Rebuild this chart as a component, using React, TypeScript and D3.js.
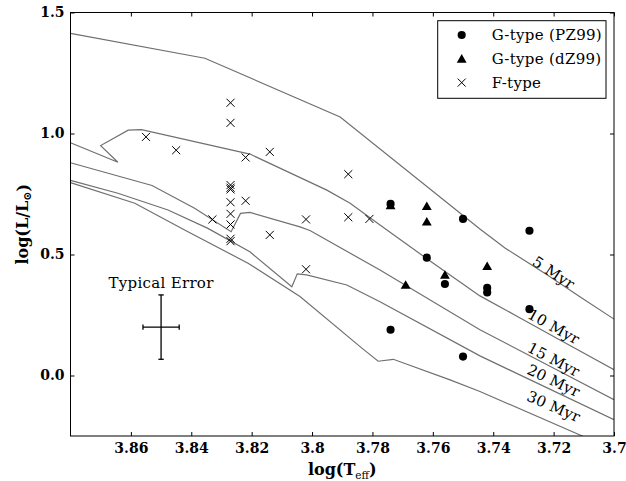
import { useEffect, useMemo, useRef } from "react";
import * as d3 from "d3";

const WIDTH = 626;
const HEIGHT = 481;
const MARGIN = { top: 12.5, right: 12, bottom: 45, left: 70.5 };
const FONT = "DejaVu Serif";
const FONT_SIZE = 15;
const SPACING = 0.3;
const CURVE_COLOR = "#707070";

// axis ranges and ticks
const xDomain = [3.88, 3.7];
const yDomain = [-0.25, 1.5];
const xTicks = [3.86, 3.84, 3.82, 3.8, 3.78, 3.76, 3.74, 3.72, 3.7];
const xTickLabels = ["3.86", "3.84", "3.82", "3.8", "3.78", "3.76", "3.74", "3.72", "3.7"];
const yTicks = [0, 0.5, 1.0, 1.5];
const yTickLabels = ["0.0", "0.5", "1.0", "1.5"];

// G-type stars (PZ99)
const pz99Teff = [3.774, 3.762, 3.756, 3.75, 3.742, 3.742, 3.728, 3.728, 3.774, 3.75];
const pz99L = [0.709, 0.487, 0.378, 0.647, 0.362, 0.343, 0.598, 0.274, 0.189, 0.078];

// G-type stars (dZ99)
const dz99Teff = [3.774, 3.762, 3.762, 3.756, 3.742, 3.769];
const dz99L = [0.703, 0.7, 0.636, 0.416, 0.452, 0.374];

// F-type stars
const fTeff = [3.855, 3.845, 3.833, 3.827, 3.827, 3.827, 3.827, 3.827, 3.827, 3.827, 3.827, 3.827, 3.827,
  3.822, 3.822, 3.814, 3.814, 3.802, 3.802, 3.788, 3.788, 3.781];
const fL = [0.986, 0.931, 0.645, 1.127, 1.044, 0.787, 0.776, 0.769, 0.716, 0.668, 0.624, 0.565, 0.555,
  0.901, 0.722, 0.924, 0.581, 0.645, 0.439, 0.832, 0.654, 0.647];

// isochrones
const iso5Teff = [3.88, 3.8355, 3.7907, 3.7444, 3.7361, 3.7222, 3.7113, 3.7];
const iso5L = [1.414, 1.311, 1.068, 0.605, 0.527, 0.416, 0.325, 0.233];
const iso10Teff = [3.88, 3.8643, 3.87, 3.8609, 3.8565, 3.8206, 3.7951, 3.7874, 3.7775, 3.7609, 3.7444, 3.7311, 3.7179, 3.7];
const iso10L = [0.962, 0.881, 0.95, 1.014, 1.016, 0.915, 0.766, 0.712, 0.622, 0.473, 0.329, 0.238, 0.147, 0.024];
const iso15Teff = [3.88, 3.853, 3.8389, 3.8268, 3.8237, 3.8206, 3.804, 3.8007, 3.7775, 3.7444, 3.7];
const iso15L = [0.879, 0.785, 0.691, 0.594, 0.67, 0.674, 0.614, 0.599, 0.436, 0.189, -0.1];
const iso20Teff = [3.88, 3.8643, 3.8477, 3.8345, 3.8206, 3.8067, 3.8049, 3.8018, 3.7885, 3.7775, 3.7444, 3.7];
const iso20L = [0.806, 0.753, 0.684, 0.608, 0.511, 0.367, 0.42, 0.416, 0.374, 0.305, 0.081, -0.183];
const iso30Teff = [3.88, 3.8587, 3.8422, 3.8212, 3.804, 3.7836, 3.7781, 3.7731, 3.7543, 3.7444, 3.7103, 3.7];
const iso30L = [0.797, 0.712, 0.601, 0.464, 0.326, 0.114, 0.059, 0.067, -0.018, -0.066, -0.251, -0.3];

const isoLabels = ["5 Myr", "10 Myr", "15 Myr", "20 Myr", "30 Myr"];
const isoLabelTeff = [3.72, 3.72, 3.72, 3.72, 3.72];
const isoLabelL = [0.424, 0.201, 0.065, -0.022, -0.129];

// typical error bar
const errTeff = 3.85;
const errL = 0.2;
const errTeffSize = 0.006;
const errLSize = 0.133;

const legendLabels = ["G-type (PZ99)", "G-type (dZ99)", "F-type"];

export default function App() {
  const axesRef = useRef<SVGGElement>(null);
  const boundsWidth = WIDTH - MARGIN.left - MARGIN.right;
  const boundsHeight = HEIGHT - MARGIN.top - MARGIN.bottom;

  const xScale = useMemo(() => d3.scaleLinear().domain(xDomain).range([0, boundsWidth]), [boundsWidth]);
  const yScale = useMemo(() => d3.scaleLinear().domain(yDomain).range([boundsHeight, 0]), [boundsHeight]);

  const isochrones = [
    [iso5Teff, iso5L],
    [iso10Teff, iso10L],
    [iso15Teff, iso15L],
    [iso20Teff, iso20L],
    [iso30Teff, iso30L],
  ];

  const lineGen = d3
    .line<[number, number]>()
    .x((d) => xScale(d[0]))
    .y((d) => yScale(d[1]));

  // rotate each label along the local slope of its curve
  const labelAngle = (teff: number[], lum: number[], at: number) => {
    const px = teff.map((t) => xScale(t));
    const py = lum.map((l) => yScale(l));
    const cx = xScale(at);
    const f = (x: number) => {
      for (let i = px.length - 1; i > 0; i--) {
        if (x >= px[i - 1] && x <= px[i]) return py[i - 1] + ((x - px[i - 1]) / (px[i] - px[i - 1])) * (py[i] - py[i - 1]);
      }
      return py[py.length - 1];
    };
    const x0 = cx - 25;
    const x1 = Math.min(cx + 25, boundsWidth);
    return (Math.atan2(f(x1) - f(x0), x1 - x0) * 180) / Math.PI;
  };

  useEffect(() => {
    const svg = d3.select(axesRef.current);
    svg.selectAll("*").remove();

    const style = (g: d3.Selection<SVGGElement, unknown, null, undefined>) => {
      g.select(".domain").remove();
      g.selectAll("line").attr("stroke", "#000").attr("stroke-width", 1);
      g.selectAll("text")
        .attr("font-family", FONT)
        .attr("font-size", 14)
        .attr("font-weight", "bold")
        .attr("fill", "#000");
    };

    svg
      .append("g")
      .attr("transform", `translate(0,${boundsHeight})`)
      .call(
        d3.axisBottom(xScale).tickValues(xTicks).tickFormat((_, i) => xTickLabels[i]).tickSizeInner(-4).tickSizeOuter(0).tickPadding(7)
      )
      .call(style);
    svg
      .append("g")
      .call(d3.axisTop(xScale).tickValues(xTicks).tickFormat(() => "").tickSizeInner(-4).tickSizeOuter(0))
      .call(style);
    svg
      .append("g")
      .call(
        d3.axisLeft(yScale).tickValues(yTicks).tickFormat((_, i) => yTickLabels[i]).tickSizeInner(-4).tickSizeOuter(0).tickPadding(6)
      )
      .call(style);
    svg
      .append("g")
      .attr("transform", `translate(${boundsWidth},0)`)
      .call(d3.axisRight(yScale).tickValues(yTicks).tickFormat(() => "").tickSizeInner(-4).tickSizeOuter(0))
      .call(style);
  }, [xScale, yScale, boundsWidth, boundsHeight]);

  const circle = d3.symbol(d3.symbolCircle, 52)()!;
  const triangle = d3.symbol(d3.symbolTriangle, 42)()!;
  const cross = d3.symbol(d3.symbolX, 44)()!;

  const ex = xScale(errTeff);
  const ey = yScale(errL);
  const exl = xScale(errTeff + errTeffSize);
  const exr = xScale(errTeff - errTeffSize);
  const eyt = yScale(errL + errLSize);
  const eyb = yScale(errL - errLSize);
  const cap = 2.7;

  const legendX = 437.7 - MARGIN.left;
  const legendY = 20.7 - MARGIN.top;

  return (
    <svg width={WIDTH} height={HEIGHT} style={{ position: "absolute", left: 0, top: 0, background: "#fff" }}>
      <defs>
        <clipPath id="plot-clip">
          <rect width={boundsWidth} height={boundsHeight} />
        </clipPath>
      </defs>
      <g transform={`translate(${MARGIN.left},${MARGIN.top})`}>
        <g clipPath="url(#plot-clip)">
          {isochrones.map(([teff, lum], i) => (
            <path
              key={i}
              d={lineGen(teff.map((t, j) => [t, lum[j]] as [number, number])) || ""}
              fill="none"
              stroke={CURVE_COLOR}
              strokeWidth={1.2}
            />
          ))}
        </g>

        {isoLabels.map((label, i) => {
          const [teff, lum] = isochrones[i];
          const angle = labelAngle(teff, lum, isoLabelTeff[i]);
          return (
            <text
              key={label}
              transform={`translate(${xScale(isoLabelTeff[i])},${yScale(isoLabelL[i])}) rotate(${angle})`}
              textAnchor="middle"
              dominantBaseline="central"
              fontFamily={FONT}
              fontSize={FONT_SIZE}
              letterSpacing={SPACING}
            >
              {label}
            </text>
          );
        })}

        {fTeff.map((t, i) => (
          <path key={"f" + i} d={cross} transform={`translate(${xScale(t)},${yScale(fL[i])})`} fill="none" stroke="#000" strokeWidth={1} />
        ))}
        {dz99Teff.map((t, i) => (
          <path key={"d" + i} d={triangle} transform={`translate(${xScale(t)},${yScale(dz99L[i]) + 1})`} fill="#000" />
        ))}
        {pz99Teff.map((t, i) => (
          <path key={"p" + i} d={circle} transform={`translate(${xScale(t)},${yScale(pz99L[i])})`} fill="#000" />
        ))}

        <g stroke="#000" strokeWidth={1.3}>
          <line x1={ex} x2={ex} y1={eyt} y2={eyb} />
          <line x1={exl} x2={exr} y1={ey} y2={ey} />
          <line x1={ex - cap} x2={ex + cap} y1={eyt} y2={eyt} />
          <line x1={ex - cap} x2={ex + cap} y1={eyb} y2={eyb} />
          <line x1={exl} x2={exl} y1={ey - cap} y2={ey + cap} />
          <line x1={exr} x2={exr} y1={ey - cap} y2={ey + cap} />
        </g>
        <text x={ex} y={eyt - 7} textAnchor="middle" fontFamily={FONT} fontSize={FONT_SIZE} letterSpacing={SPACING}>
          Typical Error
        </text>

        <g transform={`translate(${legendX},${legendY})`}>
          <rect width={168.3} height={77.6} fill="#fff" stroke="#000" strokeWidth={1} />
          {legendLabels.map((label, i) => {
            const y = 14.3 + i * 23.8;
            const marker = i === 0 ? circle : i === 1 ? triangle : cross;
            return (
              <g key={label}>
                <path
                  d={marker}
                  transform={`translate(24,${y + (i === 1 ? 1 : 0)})`}
                  fill={i === 2 ? "none" : "#000"}
                  stroke={i === 2 ? "#000" : "none"}
                  strokeWidth={1}
                />
                <text x={54} y={y} dominantBaseline="central" fontFamily={FONT} fontSize={FONT_SIZE} letterSpacing={SPACING}>
                  {label}
                </text>
              </g>
            );
          })}
        </g>

        <g ref={axesRef} />
        <rect width={boundsWidth} height={boundsHeight} fill="none" stroke="#000" strokeWidth={1} />

        <text x={boundsWidth / 2} y={boundsHeight + 39} textAnchor="middle" fontFamily={FONT} fontSize={16} fontWeight="bold">
          log(T
          <tspan fontSize={10.5} fontWeight="normal" dy={4}>eff</tspan>
          <tspan dy={-4}>)</tspan>
        </text>
        <text
          transform={`translate(${22.5 - MARGIN.left},${boundsHeight / 2}) rotate(-90)`}
          textAnchor="middle"
          dominantBaseline="central"
          fontFamily={FONT}
          fontSize={16}
          fontWeight="bold"
        >
          log(L/L
          <tspan fontSize={11} dy={4}>⊙</tspan>
          <tspan dy={-4}>)</tspan>
        </text>
      </g>
    </svg>
  );
}
